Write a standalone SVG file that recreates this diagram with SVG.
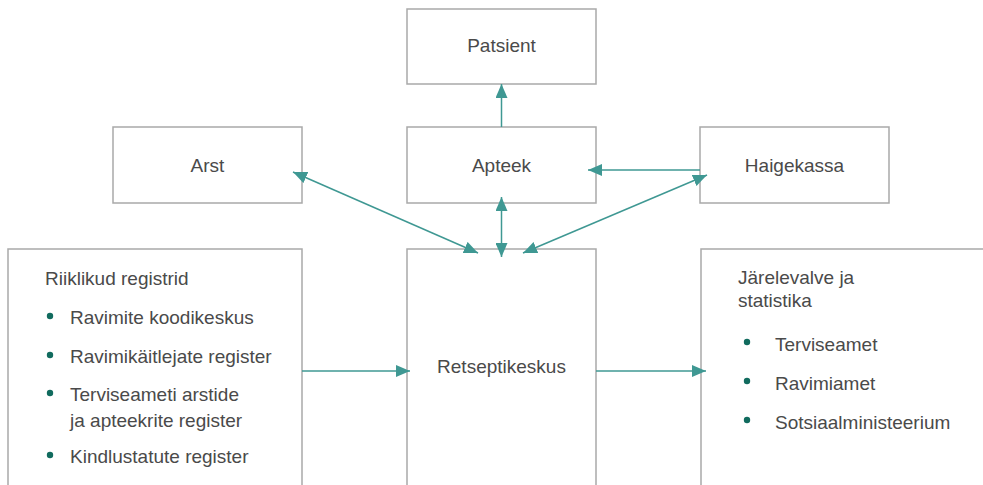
<svg xmlns="http://www.w3.org/2000/svg" width="983" height="485" viewBox="0 0 983 485">
<style>
.box{fill:#fff;stroke:#a9a9a9;stroke-width:1.5}
.t{font-family:"Liberation Sans",Arial,sans-serif;font-size:19px;fill:#4a4a4a}
.c{text-anchor:middle}
.b{fill:#116b5e}
.ln{stroke:#3f9893;stroke-width:1.5;fill:none}
</style>
<defs>
<marker id="ah" viewBox="0 0 14 12" refX="14" refY="6" markerWidth="14" markerHeight="12" markerUnits="userSpaceOnUse" orient="auto-start-reverse">
<path d="M0,0 L14,6 L0,12 z" fill="#3f9893"/>
</marker>
</defs>
<rect width="983" height="485" fill="#fff"/>
<g id="patsient"><rect class="box" x="407" y="9" width="189" height="75"/><text class="t c" x="501.5" y="52">Patsient</text></g>
<g id="arst"><rect class="box" x="113" y="127" width="189" height="76"/><text class="t c" x="207.5" y="172">Arst</text></g>
<g id="apteek"><rect class="box" x="407" y="127" width="189" height="76"/><text class="t c" x="501.5" y="172">Apteek</text></g>
<g id="haigekassa"><rect class="box" x="700" y="127" width="189" height="76"/><text class="t c" x="794.5" y="172">Haigekassa</text></g>
<g id="riiklikud"><rect class="box" x="8" y="249" width="294" height="250"/>
<text class="t" x="45" y="285">Riiklikud registrid</text>
<circle class="b" cx="50" cy="316" r="3.2"/><text class="t" x="70" y="324">Ravimite koodikeskus</text>
<circle class="b" cx="50" cy="355" r="3.2"/><text class="t" x="70" y="363">Ravimikäitlejate register</text>
<circle class="b" cx="50" cy="393" r="3.2"/><text class="t" x="70" y="401">Terviseameti arstide</text><text class="t" x="70" y="427">ja apteekrite register</text>
<circle class="b" cx="50" cy="455" r="3.2"/><text class="t" x="70" y="463">Kindlustatute register</text>
</g>
<g id="retseptikeskus"><rect class="box" x="407" y="249" width="189" height="250"/><text class="t c" x="501.5" y="373">Retseptikeskus</text></g>
<g id="jarelevalve"><rect class="box" x="701" y="249" width="300" height="250"/>
<text class="t" x="738" y="284">Järelevalve ja</text><text class="t" x="738" y="307">statistika</text>
<circle class="b" cx="747" cy="342" r="3.2"/><text class="t" x="775" y="351">Terviseamet</text>
<circle class="b" cx="747" cy="381" r="3.2"/><text class="t" x="775" y="390">Ravimiamet</text>
<circle class="b" cx="747" cy="420" r="3.2"/><text class="t" x="775" y="429">Sotsiaalministeerium</text>
</g>
<g id="connectors">
<line class="ln" x1="501.5" y1="127" x2="501.5" y2="84" marker-end="url(#ah)"/>
<line class="ln" x1="700" y1="170" x2="588" y2="170" marker-end="url(#ah)"/>
<line class="ln" x1="501.5" y1="197" x2="501.5" y2="257" marker-start="url(#ah)" marker-end="url(#ah)"/>
<line class="ln" x1="293" y1="172" x2="478" y2="253" marker-start="url(#ah)" marker-end="url(#ah)"/>
<line class="ln" x1="523" y1="253" x2="707" y2="175" marker-start="url(#ah)" marker-end="url(#ah)"/>
<line class="ln" x1="302" y1="371" x2="410" y2="371" marker-end="url(#ah)"/>
<line class="ln" x1="596" y1="371" x2="706" y2="371" marker-end="url(#ah)"/>
</g>
</svg>
